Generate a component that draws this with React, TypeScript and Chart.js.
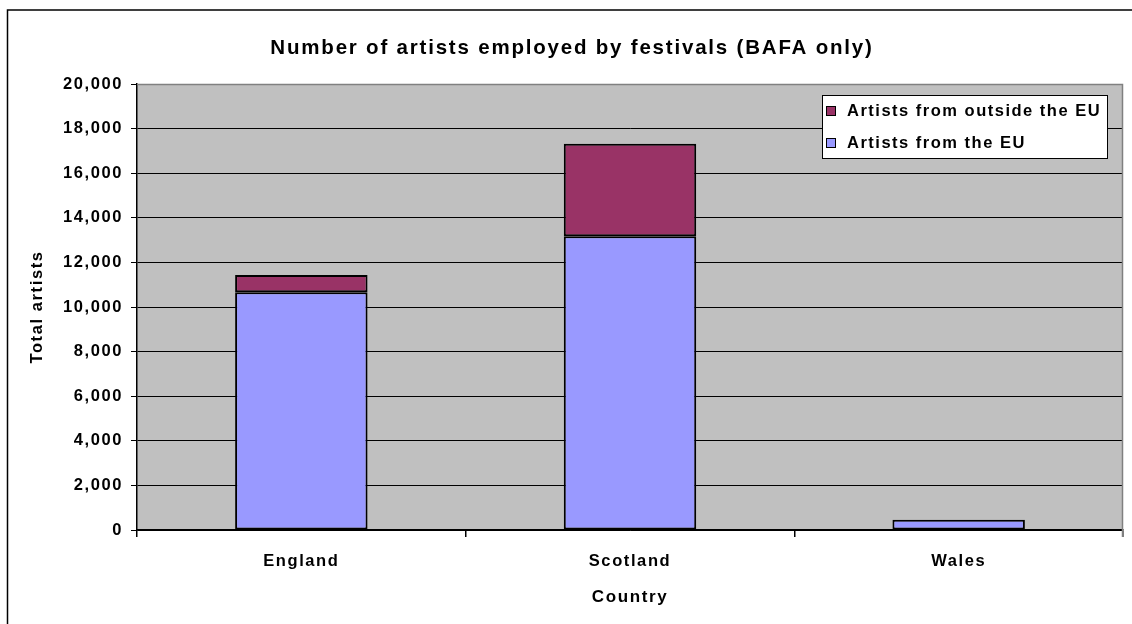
import React, { useEffect, useRef } from "react";
import { Chart, registerables } from "chart.js";

Chart.register(...registerables);

const categories = ["England", "Scotland", "Wales"];
const euArtists = [10660, 13170, 460];
const nonEuArtists = [770, 4150, 0];
const yTicks = [0, 2000, 4000, 6000, 8000, 10000, 12000, 14000, 16000, 18000, 20000];
const chartTitle = "Number of artists employed by festivals (BAFA only)";
const yTitle = "Total artists";
const xTitle = "Country";
const seriesNames = ["Artists from the EU", "Artists from outside the EU"];

const FONT = "'Liberation Sans', Arial, sans-serif";

const setSpacing = (ctx: any, v: string) => {
  try {
    ctx.letterSpacing = v;
  } catch (e) {}
};

const decorPlugin = {
  id: "decor",
  beforeLayout(chart: any) {
    setSpacing(chart.ctx, "1.6px");
  },
  beforeDraw(chart: any) {
    const ctx = chart.ctx;
    setSpacing(ctx, "1.6px");
    const { left, right, top, bottom } = chart.chartArea;
    ctx.save();
    ctx.fillStyle = "#ffffff";
    ctx.fillRect(0, 0, chart.width, chart.height);
    // outer frame (left & top edges visible)
    ctx.strokeStyle = "#000000";
    ctx.lineWidth = 1.5;
    ctx.beginPath();
    ctx.moveTo(7.5, chart.height + 2);
    ctx.lineTo(7.5, 10);
    ctx.lineTo(chart.width + 2, 10);
    ctx.stroke();
    // plot background
    ctx.fillStyle = "#C0C0C0";
    ctx.fillRect(left, top, right - left, bottom - top);
    ctx.restore();
  },
  afterDatasetsDraw(chart: any) {
    const ctx = chart.ctx;
    const { left, right, top, bottom } = chart.chartArea;
    ctx.save();
    ctx.strokeStyle = "#808080";
    ctx.lineWidth = 1.5;
    ctx.beginPath();
    ctx.moveTo(left, top + 0.5);
    ctx.lineTo(right - 0.5, top + 0.5);
    ctx.lineTo(right - 0.5, bottom + 7);
    ctx.stroke();
    ctx.restore();
  },
  afterDraw(chart: any) {
    const ctx = chart.ctx;
    ctx.save();
    // title
    setSpacing(ctx, "1.8px");
    ctx.fillStyle = "#000000";
    ctx.font = `bold 20.5px ${FONT}`;
    ctx.textAlign = "center";
    ctx.textBaseline = "middle";
    ctx.fillText(chartTitle, 572, 48);
    // legend
    setSpacing(ctx, "1.5px");
    const lx = 822, ly = 95, lw = 285, lh = 63;
    ctx.fillStyle = "#ffffff";
    ctx.fillRect(lx, ly, lw, lh);
    ctx.strokeStyle = "#000000";
    ctx.lineWidth = 1;
    ctx.strokeRect(lx + 0.5, ly + 0.5, lw, lh);
    const ds = chart.data.datasets.slice().reverse();
    ctx.font = `bold 16.5px ${FONT}`;
    ctx.textAlign = "left";
    ds.forEach((d: any, i: number) => {
      const cy = ly + 16 + i * 32;
      ctx.fillStyle = d.backgroundColor;
      ctx.fillRect(826, cy - 5, 10, 10);
      ctx.strokeStyle = "#000000";
      ctx.strokeRect(826.5, cy - 4.5, 9, 9);
      ctx.fillStyle = "#000000";
      ctx.fillText(d.label, 847, cy);
    });
    ctx.restore();
  },
};

export default function App() {
  const canvasRef = useRef<HTMLCanvasElement | null>(null);
  useEffect(() => {
    const canvas = canvasRef.current;
    if (!canvas) return;
    const chart = new Chart(canvas, {
      type: "bar",
      data: {
        labels: categories,
        datasets: [
          {
            label: seriesNames[0],
            data: euArtists,
            backgroundColor: "#9999FF",
            borderColor: "#000000",
            borderWidth: 2,
            borderSkipped: false,
            categoryPercentage: 1,
            barPercentage: 0.403,
          },
          {
            label: seriesNames[1],
            data: nonEuArtists,
            backgroundColor: "#993366",
            borderColor: "#000000",
            borderWidth: 2,
            borderSkipped: false,
            categoryPercentage: 1,
            barPercentage: 0.403,
          },
        ],
      },
      plugins: [decorPlugin],
      options: {
        animation: false,
        responsive: false,
        maintainAspectRatio: false,
        layout: { padding: { left: 0, right: 9, top: 84, bottom: 0 } },
        plugins: {
          legend: { display: false },
          title: { display: false },
          tooltip: { enabled: false },
        },
        scales: {
          x: {
            stacked: true,
            grid: {
              offset: true,
              drawOnChartArea: false,
              drawTicks: true,
              tickLength: 7,
              color: "#000000",
              lineWidth: 1.5,
            },
            border: { display: true, color: "#000000", width: 1.5 },
            ticks: {
              color: "#000000",
              font: { family: FONT, size: 16.5, weight: "bold" },
              padding: 15,
              maxRotation: 0,
            },
            title: {
              display: true,
              text: xTitle,
              color: "#000000",
              font: { family: FONT, size: 17, weight: "bold" },
              padding: { top: 0, bottom: 16 },
            },
            afterFit(scale: any) {
              scale.height = 94;
            },
          },
          y: {
            stacked: true,
            min: 0,
            max: 20000,
            afterBuildTicks(scale: any) {
              scale.ticks = yTicks.map((v) => ({ value: v }));
            },
            grid: {
              color: "#000000",
              lineWidth: 1,
              drawTicks: true,
              tickLength: 6,
            },
            border: { display: true, color: "#000000", width: 1.5 },
            ticks: {
              color: "#000000",
              font: { family: FONT, size: 16.5, weight: "bold" },
              padding: 8,
              callback: (v: any) => Number(v).toLocaleString("en-US"),
            },
            title: {
              display: true,
              text: yTitle,
              color: "#000000",
              font: { family: FONT, size: 16.5, weight: "bold" },
              padding: { top: 28, bottom: 0 },
            },
            afterFit(scale: any) {
              scale.width = 137;
            },
          },
        },
      },
    });
    return () => chart.destroy();
  }, []);
  return (
    <div style={{ position: "fixed", left: 0, top: 0, width: 1132, height: 624 }}>
      <canvas ref={canvasRef} width={1132} height={624} style={{ display: "block", width: 1132, height: 624 }} />
    </div>
  );
}
